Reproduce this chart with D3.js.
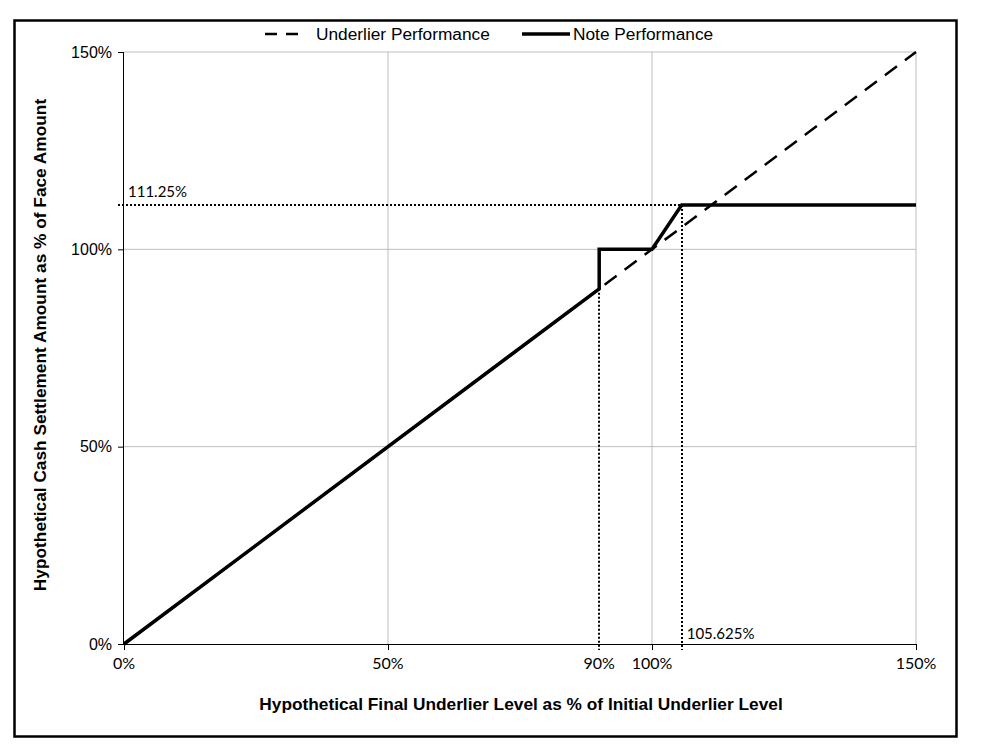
<!DOCTYPE html>
<meta charset="utf-8">
<head>
  <script src="https://cdn.jsdelivr.net/npm/d3@7"></script>
</head>
<style>
  body { margin: 0; background: #fff; }
  text { font-family: "Liberation Sans", Arial, sans-serif; }
  .cal { font-family: Lato, "Open Sans", sans-serif; }
</style>
<body></body>
<script>
  var underlierX = [0, 150];
  var underlierY = [0, 150];
  var noteX = [0, 90, 90, 100, 105.625, 150];
  var noteY = [0, 90, 100, 100, 111.25, 111.25];
  var yTicks = [0, 50, 100, 150];
  var xTicks = [0, 50, 90, 100, 150];
  var xGrid = [50, 100, 150];
  var capLevel = 111.25;
  var capStrike = 105.625;
  var buffer = 90;

  var width = 981, height = 756;

  var svg = d3.select("body").append("svg")
      .attr("width", width)
      .attr("height", height);

  // outer frame
  svg.append("rect")
      .attr("x", 14.5).attr("y", 20.5)
      .attr("width", 942).attr("height", 716)
      .attr("fill", "none").attr("stroke", "#000").attr("stroke-width", 2.5);

  var x = d3.scaleLinear().domain([0, 150]).range([124, 916]);
  var y = d3.scaleLinear().domain([0, 150]).range([644, 52]);

  // grid
  svg.append("g").selectAll("line").data(yTicks.slice(1)).enter().append("line")
      .attr("x1", x(0)).attr("x2", x(150))
      .attr("y1", function(d) { return y(d); }).attr("y2", function(d) { return y(d); })
      .attr("stroke", "#bdbdbd").attr("stroke-width", 1);
  svg.append("g").selectAll("line").data(xGrid).enter().append("line")
      .attr("y1", y(0)).attr("y2", y(150))
      .attr("x1", function(d) { return x(d); }).attr("x2", function(d) { return x(d); })
      .attr("stroke", "#bdbdbd").attr("stroke-width", 1);

  // axes
  var yAxis = svg.append("g")
      .attr("transform", "translate(" + x(0) + ",0)")
      .call(d3.axisLeft(y).tickValues(yTicks).tickSize(6).tickPadding(6)
        .tickFormat(function(d) { return d + "%"; }));
  yAxis.selectAll("text").style("font-size", "16px").attr("fill", "#000");

  var xAxis = svg.append("g")
      .attr("transform", "translate(0," + y(0) + ")")
      .call(d3.axisBottom(x).tickValues([0, 50, 100, 150]).tickSize(6).tickFormat(""));
  xAxis.selectAll("path, line").attr("stroke", "#000");
  yAxis.selectAll("path, line").attr("stroke", "#000");
  xAxis.select(".domain").attr("d", "M" + x(0) + ",0.5H" + x(150));
  yAxis.select(".domain").attr("d", "M-0.5," + y(0) + "V" + y(150));

  svg.append("g").selectAll("text").data(xTicks).enter().append("text")
      .attr("class", "cal")
      .attr("x", function(d) { return x(d); })
      .attr("y", y(0) + 25)
      .attr("text-anchor", "middle")
      .style("font-size", "16px")
      .text(function(d) { return d + "%"; });

  // dotted reference lines
  function dotted(x1, y1, x2, y2) {
    svg.append("line").attr("x1", x1).attr("y1", y1).attr("x2", x2).attr("y2", y2)
      .attr("stroke", "#000").attr("stroke-width", 2).attr("stroke-dasharray", "2,2");
  }
  dotted(x(0) - 6, Math.round(y(capLevel)), x(capStrike), Math.round(y(capLevel)));
  dotted(Math.round(x(buffer)), y(buffer), Math.round(x(buffer)), y(0) + 6);
  dotted(Math.round(x(capStrike)), y(capLevel), Math.round(x(capStrike)), y(0) + 6);

  svg.append("text").attr("class", "cal")
      .attr("x", x(0) + 4).attr("y", y(capLevel) - 8)
      .style("font-size", "15px").text(capLevel + "%");
  svg.append("text").attr("class", "cal")
      .attr("x", x(capStrike) + 5).attr("y", y(0) - 5)
      .style("font-size", "15px").text(capStrike + "%");

  // series
  var line = d3.line().x(function(d) { return x(d[0]); }).y(function(d) { return y(d[1]); });
  svg.append("path")
      .datum(d3.zip(underlierX, underlierY))
      .attr("d", line)
      .attr("fill", "none").attr("stroke", "#000").attr("stroke-width", 2.5)
      .attr("stroke-dasharray", "15,10");
  svg.append("path")
      .datum(d3.zip(noteX, noteY))
      .attr("d", line)
      .attr("fill", "none").attr("stroke", "#000").attr("stroke-width", 3.5);

  // legend
  svg.append("line").attr("x1", 265).attr("x2", 305).attr("y1", 34).attr("y2", 34)
      .attr("stroke", "#000").attr("stroke-width", 2.5).attr("stroke-dasharray", "12,9");
  svg.append("text").attr("x", 316).attr("y", 40).style("font-size", "17.3px").text("Underlier Performance");
  svg.append("line").attr("x1", 522).attr("x2", 570).attr("y1", 34).attr("y2", 34)
      .attr("stroke", "#000").attr("stroke-width", 3.5);
  svg.append("text").attr("x", 573).attr("y", 40).style("font-size", "17.3px").text("Note Performance");

  // axis titles
  svg.append("text")
      .attr("x", 521).attr("y", 710)
      .attr("text-anchor", "middle")
      .style("font-size", "17.3px").style("font-weight", "bold")
      .text("Hypothetical Final Underlier Level as % of Initial Underlier Level");
  svg.append("text")
      .attr("transform", "translate(46,345) rotate(-90)")
      .attr("text-anchor", "middle")
      .style("font-size", "17.3px").style("font-weight", "bold")
      .text("Hypothetical Cash Settlement Amount as % of Face Amount");
</script>
